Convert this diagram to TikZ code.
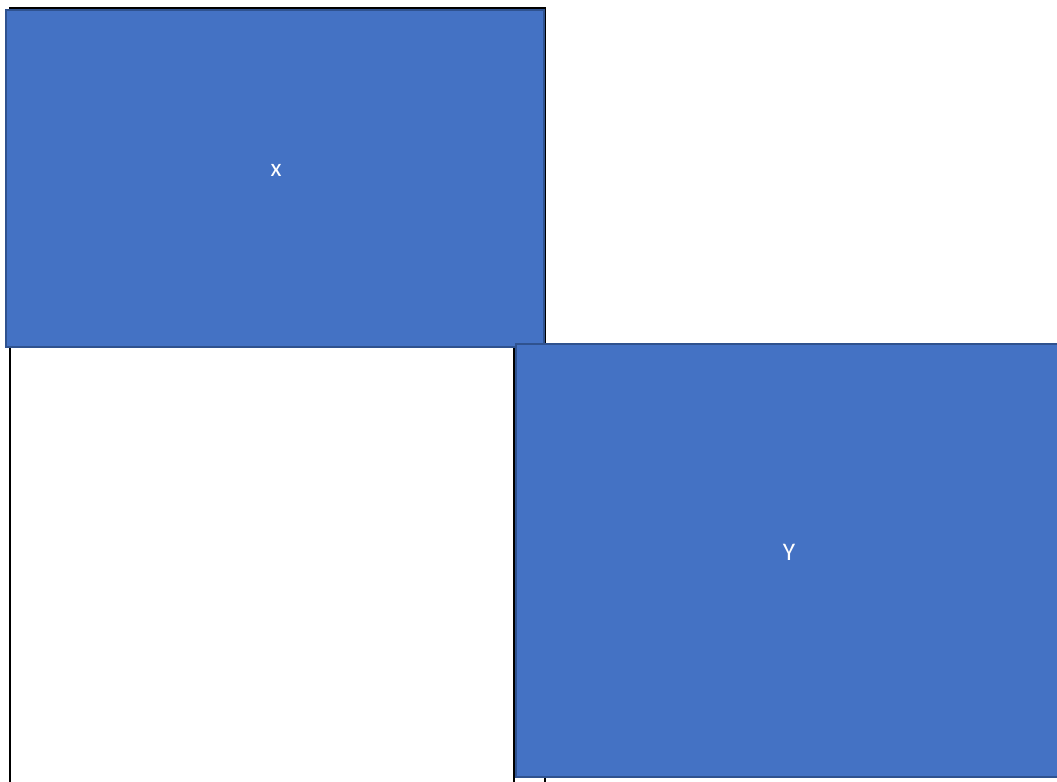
\documentclass[tikz,border=0pt]{standalone}
\usepackage{fontspec}
\setmainfont{Carlito}
\definecolor{boxblue}{HTML}{4472C4}
\definecolor{boxedge}{HTML}{2F528F}
\begin{document}
\begin{tikzpicture}[x=0.75pt,y=-0.75pt]
\tikzset{
  bluebox/.style={draw=boxedge, fill=boxblue, line width=1.5pt},
  gridline/.style={draw=black, line width=1.6pt},
  boxlabel/.style={text=white, font=\fontsize{19}{22}\selectfont, inner sep=0pt}
}
\useasboundingbox (0,0) rectangle (1057,782);
% table-like black frame
\coordinate (tl) at (10,8);
\coordinate (tr) at (545,8);
\coordinate (bl) at (10,782);
\coordinate (br) at (545,782);
\coordinate (ml) at (514,345);
\coordinate (mb) at (514,782);
\draw[gridline] (bl) -- (tl) -- (tr) -- (br);
\draw[gridline] (ml) -- (mb);
% blue boxes
\draw[bluebox] (6,10) rectangle (544,347);
\draw[bluebox] (516,344) rectangle (1060,777);
\node[boxlabel] (X) at (276,170) {x};
\node[boxlabel] (Y) at (789,552) {Y};
\end{tikzpicture}
\end{document}
